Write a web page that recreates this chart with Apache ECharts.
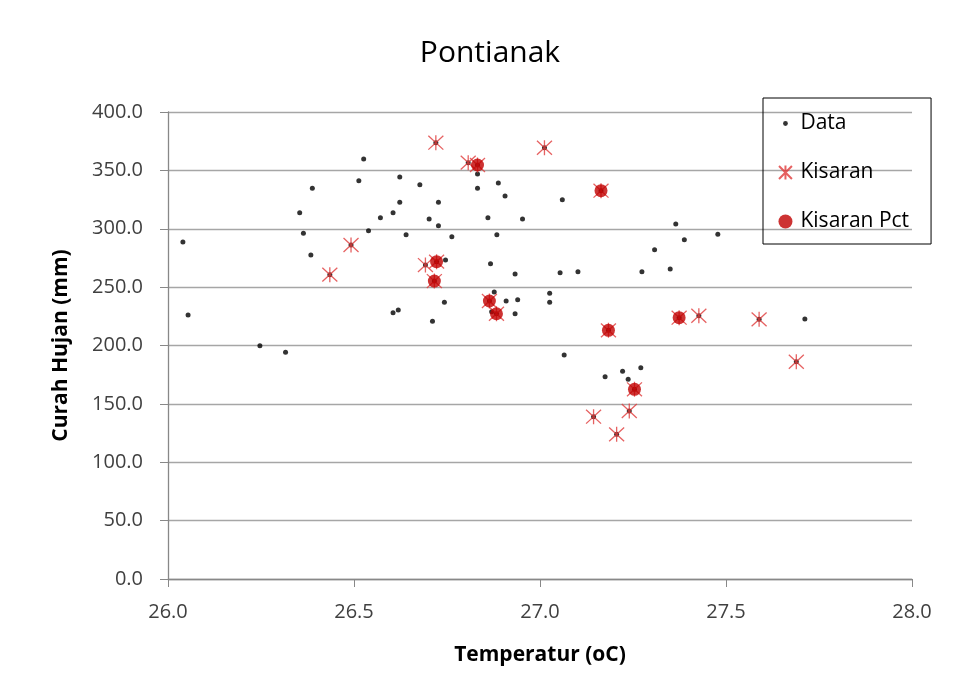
<!DOCTYPE html>
<html>
<head>
<meta charset="utf-8">
<script src="https://cdn.jsdelivr.net/npm/echarts@6/dist/echarts.min.js"></script>
<style>
html,body{margin:0;padding:0;background:#fff;}
#chart{width:958px;height:698px;}
</style>
</head>
<body>
<div id="chart"></div>
<script>
// Black-only data points [temperature, rainfall]
const dataOnly = [
  [26.040,288.7],[26.054,226.1],[26.247,199.8],[26.316,194.2],[26.354,313.8],[26.364,296.1],
  [26.384,277.5],[26.388,334.6],[26.513,341.2],[26.526,359.7],[26.539,298.3],[26.571,309.5],
  [26.605,313.8],[26.605,228.1],[26.619,230.4],[26.623,344.3],[26.623,322.6],[26.640,294.9],
  [26.677,337.7],[26.702,308.4],[26.711,220.7],[26.727,322.6],[26.727,302.6],[26.743,237.0],
  [26.746,273.2],[26.763,293.2],[26.832,346.9],[26.832,334.6],[26.860,309.5],[26.867,270.1],
  [26.877,245.8],[26.884,294.9],[26.888,339.2],[26.906,328.0],[26.909,238.1],[26.933,261.2],
  [26.933,227.2],[26.940,239.2],[26.953,308.4],[27.026,244.7],[27.026,237.0],[27.054,262.4],
  [27.060,324.9],[27.065,191.9],[27.102,263.2],[27.175,173.3],[27.222,177.9],[27.237,171.0],
  [27.271,181.0],[27.274,263.2],[27.308,282.0],[27.350,265.5],[27.365,304.1],[27.388,290.6],
  [27.478,295.2],[27.712,222.7],[26.870,229.0]
];
// Kisaran points without Pct
const kisaranOnly = [
  [26.435,260.7],[26.492,286.1],[26.692,268.9],[26.720,373.7],[26.807,356.6],[27.012,369.4],
  [27.144,139.0],[27.206,123.9],[27.240,143.9],[27.427,225.5],[27.589,222.4],[27.689,186.1]
];
// Kisaran Pct points
const kisaranPct = [
  [26.832,354.6],[27.164,332.6],[26.722,271.8],[26.716,255.2],[26.864,238.1],
  [26.883,227.2],[27.184,213.0],[27.374,223.8],[27.254,162.5]
];
const xTicks = [26.0, 26.5, 27.0, 27.5, 28.0];
const yTicks = [0, 50, 100, 150, 200, 250, 300, 350, 400];

const kisaranAll = kisaranOnly.concat(kisaranPct);
const dataAll = dataOnly.concat(kisaranAll);

const FONT = '"Open Sans", "Noto Sans", sans-serif';
const starPath = 'path://M0,0L12,12M12,0L0,12M6,-0.5L6,12.5';
const smallDotPath = 'path://M0,0M14,14M4.6,7A2.4,2.4,0,1,1,9.4,7A2.4,2.4,0,1,1,4.6,7Z';

const chart = echarts.init(document.getElementById('chart'), null, {renderer: 'canvas'});
chart.setOption({
  animation: false,
  backgroundColor: '#ffffff',
  title: {
    text: 'Pontianak',
    left: 485, top: 33, textAlign: 'center',
    textStyle: {fontFamily: FONT, fontSize: 30, fontWeight: 'normal', color: '#000'}
  },
  grid: {left: 168, right: 46, top: 112, bottom: 119, containLabel: false},
  legend: {
    orient: 'vertical',
    left: 763, top: 98,
    padding: [13, 22, 10, 15],
    itemGap: 24,
    itemWidth: 14, itemHeight: 14,
    itemGap: 24,
    borderColor: '#000', borderWidth: 1,
    textStyle: {fontFamily: FONT, fontSize: 21, color: '#000', lineHeight: 25, padding: [0, 0, 0, 3]},
    data: [
      {name: 'Data', icon: smallDotPath, itemStyle: {color: '#000', borderWidth: 0}},
      {name: 'Kisaran', icon: starPath},
      {name: 'Kisaran Pct', icon: 'circle', itemStyle: {color: '#c00000', borderWidth: 0}}
    ]
  },
  xAxis: {
    type: 'value', min: xTicks[0], max: xTicks[xTicks.length-1], interval: 0.5,
    name: 'Temperatur (oC)', nameLocation: 'middle', nameGap: 66,
    nameTextStyle: {fontFamily: FONT, fontSize: 21, fontWeight: 'bold', color: '#000'},
    axisLine: {lineStyle: {color: '#888', width: 1.3}},
    axisTick: {show: true, length: 8, inside: false, lineStyle: {color: '#888'}},
    axisLabel: {fontFamily: FONT, fontSize: 20, color: '#404040', margin: 23,
      formatter: v => v.toFixed(1)},
    splitLine: {show: false}
  },
  yAxis: {
    type: 'value', min: yTicks[0], max: yTicks[yTicks.length-1], interval: 50,
    name: 'Curah Hujan (mm)', nameLocation: 'middle', nameGap: 96, nameRotate: 90,
    nameTextStyle: {fontFamily: FONT, fontSize: 21, fontWeight: 'bold', color: '#000'},
    axisLine: {show: true, lineStyle: {color: '#888', width: 1.3}},
    axisTick: {show: true, length: 8, lineStyle: {color: '#888'}},
    axisLabel: {fontFamily: FONT, fontSize: 20, color: '#404040', margin: 25,
      formatter: v => v.toFixed(1)},
    splitLine: {show: true, lineStyle: {color: '#a6a6a6', width: 1.3}}
  },
  series: [
    {
      name: 'Data', type: 'scatter', data: dataAll,
      symbol: 'circle', symbolSize: 5,
      itemStyle: {color: '#000'}, z: 2
    },
    {
      name: 'Kisaran', type: 'scatter', data: kisaranAll,
      symbol: starPath, symbolSize: 15,
      itemStyle: {color: 'rgba(0,0,0,0)', borderColor: '#e03a3a', borderWidth: 1.3}, z: 3
    },
    {
      name: 'Kisaran Pct', type: 'scatter', data: kisaranPct,
      symbol: 'circle', symbolSize: 13,
      itemStyle: {color: '#c00000'}, z: 4
    }
  ]
});
</script>
</body>
</html>
